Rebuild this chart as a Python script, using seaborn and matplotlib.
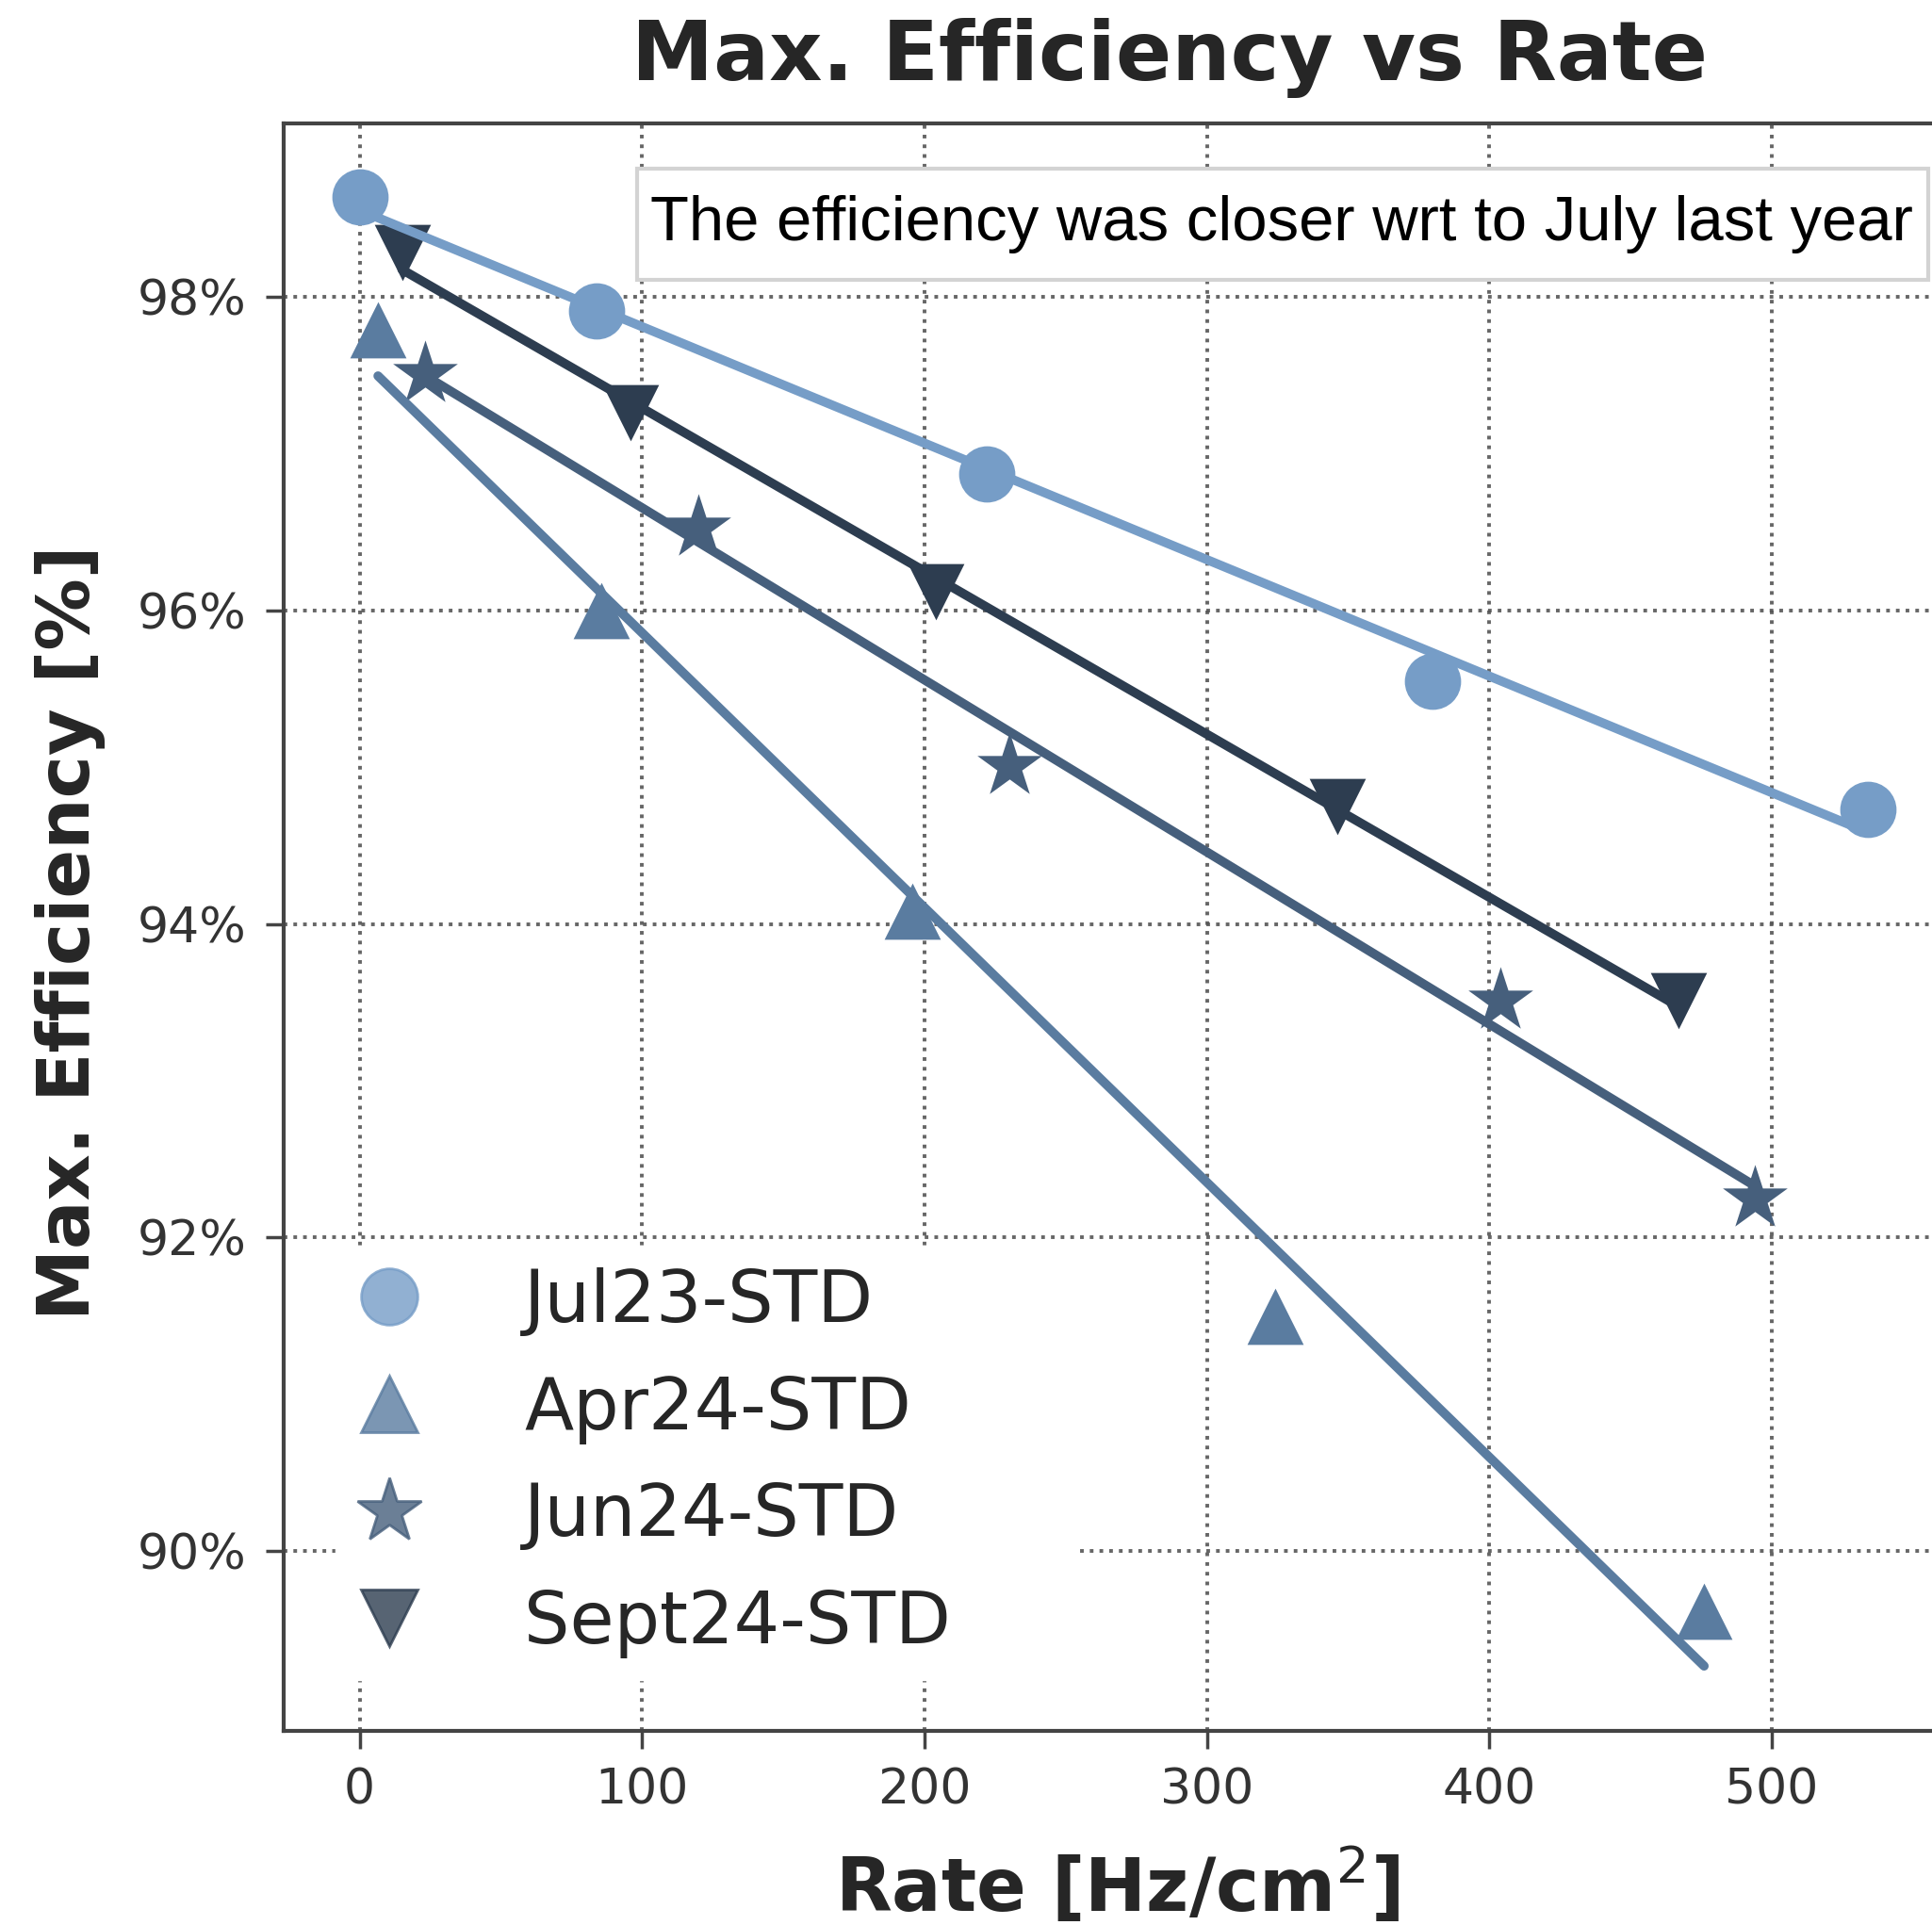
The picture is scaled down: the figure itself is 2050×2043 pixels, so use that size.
import numpy as np
import pandas as pd
import matplotlib
matplotlib.use("Agg")
import matplotlib.pyplot as plt
from matplotlib.lines import Line2D
from matplotlib.patches import Rectangle
from matplotlib.font_manager import FontProperties, findfont
import seaborn as sns

# ---- data -------------------------------------------------------------
series_names = ["Jul23-STD", "Apr24-STD", "Jun24-STD", "Sept24-STD"]
series_markers = ["o", "^", "*", "v"]
series_colors = ["#769dc7", "#5a7ca0", "#465f7c", "#2d3d50"]

rate_jul23 = [0, 84, 222, 380, 534]
eff_jul23 = [98.64, 97.91, 96.87, 95.55, 94.73]

rate_apr24 = [6.5, 85.5, 195.5, 324, 476]
eff_apr24 = [97.79, 96.00, 94.08, 91.50, 89.62]

rate_jun24 = [23, 120, 230, 404, 494]
eff_jun24 = [97.51, 96.53, 95.01, 93.51, 92.25]

rate_sep24 = [15, 96, 204, 346, 467]
eff_sep24 = [98.28, 97.26, 96.12, 94.75, 93.51]

x_ticks = [0, 100, 200, 300, 400, 500]
y_ticks = [90, 92, 94, 96, 98]
y_tick_labels = ["90%", "92%", "94%", "96%", "98%"]

title_text = "Max. Efficiency vs Rate"
x_label = "Rate [Hz/cm$^2$]"
y_label = "Max. Efficiency [%]"
note_text = "The efficiency was closer wrt to July last year"

rates = [rate_jul23, rate_apr24, rate_jun24, rate_sep24]
effs = [eff_jul23, eff_apr24, eff_jun24, eff_sep24]
df = pd.concat(
    [pd.DataFrame({"rate": r, "eff": e, "run": n}) for r, e, n in zip(rates, effs, series_names)],
    ignore_index=True,
)

# star glyphs look smaller at equal size, so give them a bit more
marker_size = {"o": 43, "^": 43, "v": 43, "*": 52}

# ---- style ------------------------------------------------------------
sns.set_theme(style="ticks")
plt.rcParams["font.family"] = ["DejaVu Sans"]
TEXT = "#262626"
AXC = "#444444"

W, H, DPI = 2050, 2043, 100
fig = plt.figure(figsize=(W / DPI, H / DPI), dpi=DPI)
fig.patch.set_facecolor("white")

ax_left, ax_bottom = 300.7 / W, 1 - 1837 / H
ax_w, ax_h = 1762.2 / W, 1706.3 / H
ax = fig.add_axes([ax_left, ax_bottom, ax_w, ax_h])

# ---- marks ------------------------------------------------------------
for name, mk, col in zip(series_names, series_markers, series_colors):
    sub = df[df["run"] == name]
    sns.scatterplot(data=sub, x="rate", y="eff", marker=mk, color=col,
                    s=marker_size[mk] ** 2, linewidth=0, ax=ax, legend=False, zorder=3)
for name, col in zip(series_names, series_colors):
    sub = df[df["run"] == name]
    sns.regplot(data=sub, x="rate", y="eff", scatter=False, ci=None, truncate=True,
                color=col, ax=ax,
                line_kws=dict(lw=7, solid_capstyle="round", zorder=4))

# ---- axes -------------------------------------------------------------
ax.set_xlim(-27, 561)
ax.set_ylim(88.854, 99.108)
ax.set_xticks(x_ticks)
ax.set_yticks(y_ticks)
ax.set_yticklabels(y_tick_labels)
ax.set_xlabel("")
ax.set_ylabel("")
ax.grid(True, linestyle=":", color="#555555", lw=2.8, alpha=0.9, zorder=0)
ax.set_axisbelow(True)
for side in ["left", "bottom", "top", "right"]:
    ax.spines[side].set_visible(True)
    ax.spines[side].set_color(AXC)
    ax.spines[side].set_linewidth(3)
ax.tick_params(direction="out", length=14, width=2.5, color=AXC,
               labelsize=37.5, labelcolor="#333333", pad=14)

# ---- legend -----------------------------------------------------------
handles = [
    Line2D([], [], linestyle="none", marker=mk, markersize=marker_size[mk], color=col,
           markerfacecolor=col, markeredgecolor=col, markeredgewidth=2, alpha=0.8)
    for mk, col in zip(series_markers, series_colors)
]
leg_left, leg_right, leg_top = 356, 1141, 1322
leg = ax.legend(handles, series_names, loc="upper left",
                bbox_to_anchor=(leg_left / W, 1 - leg_top / H, (leg_right - leg_left) / W, 0),
                bbox_transform=fig.transFigure, mode="expand",
                borderaxespad=0, frameon=True, fancybox=False, facecolor="white",
                edgecolor="white", framealpha=1, fontsize=55, labelspacing=0.52,
                handlelength=0.89, handletextpad=1.43, borderpad=0.3,
                labelcolor=TEXT)
leg.set_zorder(5)

# ---- titles -----------------------------------------------------------
fig.text(1241 / W, 1 - 85 / H, title_text, ha="center", va="baseline",
         fontsize=63, fontweight="bold", color=TEXT)
fig.text(1186 / W, 1 - 2029 / H, x_label, ha="center", va="baseline",
         fontsize=56, fontweight="bold", color=TEXT)
fig.text(75 / W, 1 - 990 / H, y_label, ha="center", va="center", rotation=90,
         fontsize=55, fontweight="bold", color=TEXT)

# ---- note box ---------------------------------------------------------
box = Rectangle((676 / W, 1 - 297 / H), 1370 / W, 118 / H, transform=fig.transFigure,
                facecolor="white", edgecolor="#d3d3d3", lw=3, zorder=10)
fig.add_artist(box)
try:
    findfont(FontProperties(family="Liberation Sans Narrow"), fallback_to_default=False)
    note_family = ["Liberation Sans Narrow", "Liberation Sans", "DejaVu Sans"]
except Exception:
    note_family = ["Liberation Sans", "DejaVu Sans"]
note = fig.text(690 / W, 1 - 238 / H, note_text, ha="left", va="center",
                fontsize=50, family=note_family, color="black", zorder=11)
renderer = fig.canvas.get_renderer()
for _ in range(3):
    wpx = note.get_window_extent(renderer).width
    note.set_fontsize(note.get_fontsize() * 1340 / wpx)

fig.savefig("out.png", dpi=DPI)
